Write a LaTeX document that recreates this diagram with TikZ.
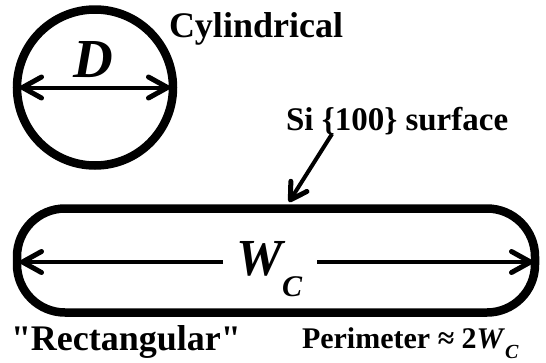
\documentclass[tikz,border=0pt]{standalone}
\usepackage{fontspec}
\setmainfont{Liberation Serif}
\usetikzlibrary{arrows.meta}
\newcommand{\straightquote}{\XeTeXglyph\XeTeXcharglyph"22\relax}
\begin{document}
\begin{tikzpicture}[x=1pt,y=-1pt,
  lbl/.style={inner sep=0pt,outer sep=0pt,anchor=base west,font=\bfseries},
  dimtip/.tip={Straight Barb[length=19pt,width=21pt,round,line width=5pt]},
  dimarr/.style={line width=4pt,-dimtip},
  shapeline/.style={line width=8.5pt}]
\useasboundingbox (0,0) rectangle (546,362);
% cylindrical cross-section
\node[circle,draw,shapeline,minimum size=156pt,inner sep=0pt,outer sep=0pt] (cyl) at (95,87.5) {};
\draw[line width=4pt,dimtip-dimtip]
  ([xshift=3pt]cyl.west) -- ([xshift=-3pt]cyl.east);
\node[inner sep=0pt,anchor=base,font=\fontsize{55}{60}\selectfont\bfseries\itshape] (dlab) at (93,77) {D};
\node[lbl,font=\fontsize{36}{40}\selectfont\bfseries] (cyltxt) at (169,37) {Cylindrical};
% rectangular cross-section
\draw[shapeline,rounded corners=48pt] (17,208.5) rectangle (535,312.5);
\coordinate (lt) at (20,262);
\coordinate (rt) at (533,262);
\node[lbl,font=\fontsize{52}{56}\selectfont\bfseries\itshape] (wc) at (236,275)
  {W\raisebox{-21pt}{\fontsize{30}{32}\selectfont C}};
\draw[dimarr] ([xshift=-13pt]wc.west |- lt) -- (lt);
\draw[dimarr] ([xshift=15pt]wc.east |- rt) -- (rt);
% labels
\node[lbl,font=\fontsize{33}{36}\selectfont\bfseries] (si) at (286,130) {Si \{100\} surface};
\coordinate (sitail) at (332,134);
\coordinate (sitip) at (289,202);
\draw[line width=4pt,-{Straight Barb[length=16pt,width=19pt,round,line width=5pt]}] (sitail) -- (sitip);
\node[lbl,font=\fontsize{36}{40}\selectfont\bfseries] (rect) at (11,350) {\straightquote Rectangular\straightquote};
\node[lbl,font=\fontsize{30}{34}\selectfont\bfseries] (perim) at (302,348)
  {Perimeter ≈ 2\textit{W}\raisebox{-10pt}{\fontsize{20}{22}\selectfont\itshape C}};
\end{tikzpicture}
\end{document}
